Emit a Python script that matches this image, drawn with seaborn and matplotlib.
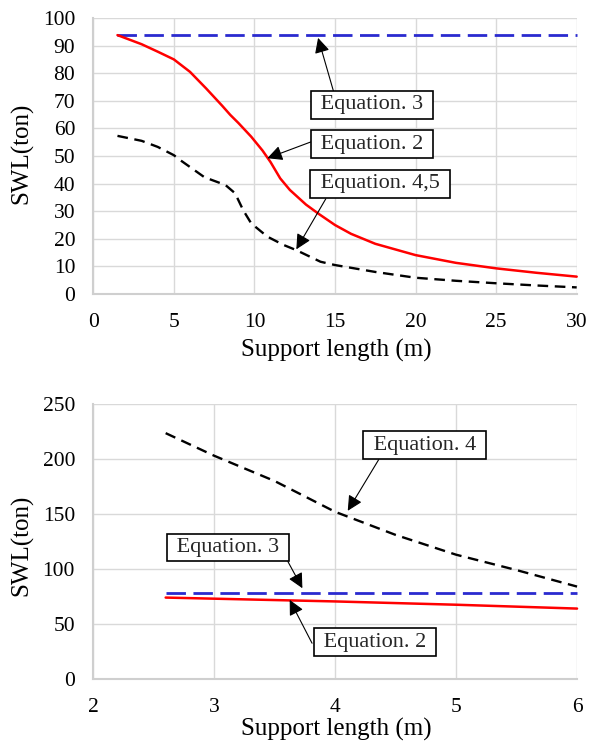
import matplotlib
matplotlib.use("Agg")
import matplotlib.pyplot as plt
import seaborn as sns
import pandas as pd

# ---- data: top chart ----
top_eq2_x = [1.5, 3, 4, 5, 6, 7, 8, 8.5, 9, 9.8, 10.5, 11, 11.6, 12.2, 13.2, 14, 15, 16, 17.5, 20, 22.5, 25, 27.5, 30]
top_eq2_y = [93.8, 90.5, 87.8, 85, 80.5, 74.5, 68.2, 64.9, 62, 57, 52, 47.8, 41.9, 37.7, 32.4, 29, 25, 21.8, 18.2, 14.1, 11.3, 9.3, 7.7, 6.3]
top_eq3_x = [1.5, 30]
top_eq3_y = [93.8, 93.8]
top_eq45_x = [1.5, 3, 4, 5, 5.4, 6.9, 8.2, 8.8, 9.3, 9.8, 10.8, 11.8, 12.6, 14.1, 15, 17.5, 20, 22.5, 25, 27.5, 30]
top_eq45_y = [57.3, 55.5, 53.3, 50.3, 48.5, 42.3, 39.5, 36.5, 30.4, 25.6, 20.8, 17.8, 15.9, 11.7, 10.5, 8, 5.9, 4.8, 3.9, 3.1, 2.4]

# ---- data: bottom chart ----
bot_eq4_x = [2.6, 3, 3.5, 4, 4.5, 5, 5.5, 6]
bot_eq4_y = [223.5, 203, 180, 152, 131, 113, 99, 84]
bot_eq3_x = [2.6, 6]
bot_eq3_y = [78, 78]
bot_eq2_x = [2.6, 3, 4, 5, 6]
bot_eq2_y = [74, 73, 70.5, 67.5, 64]

top_xticks = [0, 5, 10, 15, 20, 25, 30]
top_yticks = [0, 10, 20, 30, 40, 50, 60, 70, 80, 90, 100]
bot_xticks = [2, 3, 4, 5, 6]
bot_yticks = [0, 50, 100, 150, 200, 250]

xlabel = "Support length (m)"
ylabel = "SWL(ton)"

sns.set_theme(style="white")
plt.rcParams["font.family"] = ["Liberation Serif", "DejaVu Serif"]

RED = "#FF0000"
BLUE = "#2A2ACF"
GRID = "#D9D9D9"

fig = plt.figure(figsize=(5.89, 7.44), dpi=100)
ax1 = fig.add_axes([0.1584, 0.6048, 0.8207, 0.371])
ax2 = fig.add_axes([0.158, 0.0874, 0.8217, 0.3696])


def style_axes(ax, xticks, yticks, ylab_y, xlab_y):
    ax.set_xlim(xticks[0], xticks[-1])
    ax.set_ylim(yticks[0], yticks[-1])
    ax.set_xticks(xticks)
    ax.set_yticks(yticks)
    ax.grid(True, color=GRID, lw=1.0)
    ax.set_axisbelow(True)
    for s in ["top", "right"]:
        ax.spines[s].set_visible(False)
    for s in ["left", "bottom"]:
        ax.spines[s].set_color("#CFCFCF")
        ax.spines[s].set_linewidth(1.5)
    ax.tick_params(axis="both", length=0, labelsize=15.5, colors="black")
    ax.tick_params(axis="x", pad=14)
    ax.tick_params(axis="y", pad=13)
    ax.set_xlabel(xlabel, fontsize=18, color="black")
    ax.set_ylabel(ylabel, fontsize=18, color="black")
    ax.yaxis.set_label_coords(-0.124, ylab_y)
    ax.xaxis.set_label_coords(0.502, xlab_y)


def draw_line(ax, xs, ys, color, dashes, lw):
    df = pd.DataFrame({"x": xs, "y": ys})
    line = sns.lineplot(data=df, x="x", y="y", ax=ax, color=color, lw=lw)
    l = line.get_lines()[-1]
    if dashes is not None:
        l.set_dashes(dashes)
    l.set_clip_on(False)


def label(ax, text, cx, cy, tail, head):
    ax.text(cx, cy, " " + text + " ", ha="center", va="center", fontsize=16,
            bbox=dict(boxstyle="square,pad=0.2", fc="white", ec="black", lw=1.2), zorder=6)
    ax.annotate("", xy=head, xytext=tail,
                arrowprops=dict(arrowstyle="-|>,head_length=0.7,head_width=0.35",
                                color="black", lw=0.8, mutation_scale=13,
                                shrinkA=0, shrinkB=0), zorder=5)


# top chart
draw_line(ax1, top_eq3_x, top_eq3_y, BLUE, (7, 2.7), 2.0)
draw_line(ax1, top_eq2_x, top_eq2_y, RED, None, 1.8)
draw_line(ax1, top_eq45_x, top_eq45_y, "black", (4.5, 2.8), 1.7)
style_axes(ax1, top_xticks, top_yticks, 0.509, -0.163)
label(ax1, "Equation. 3", 17.3, 68.5, (14.9, 73.6), (13.95, 92.8))
label(ax1, "Equation. 2", 17.3, 54.3, (13.5, 55.1), (10.8, 49.2))
label(ax1, "Equation. 4,5", 17.8, 39.9, (14.43, 34.5), (12.6, 16.2))

# bottom chart
draw_line(ax2, bot_eq4_x, bot_eq4_y, "black", (4.5, 2.8), 1.7)
draw_line(ax2, bot_eq3_x, bot_eq3_y, BLUE, (7, 2.7), 2.0)
draw_line(ax2, bot_eq2_x, bot_eq2_y, RED, None, 1.8)
style_axes(ax2, bot_xticks, bot_yticks, 0.487, -0.142)
label(ax2, "Equation. 4", 4.74, 212.4, (4.36, 199.3), (4.105, 152.9))
label(ax2, "Equation. 3", 3.115, 119.5, (3.61, 106.8), (3.73, 82.5))
label(ax2, "Equation. 2", 4.33, 33.4, (3.81, 32.5), (3.625, 71.9))

fig.savefig("out.png", dpi=100)
